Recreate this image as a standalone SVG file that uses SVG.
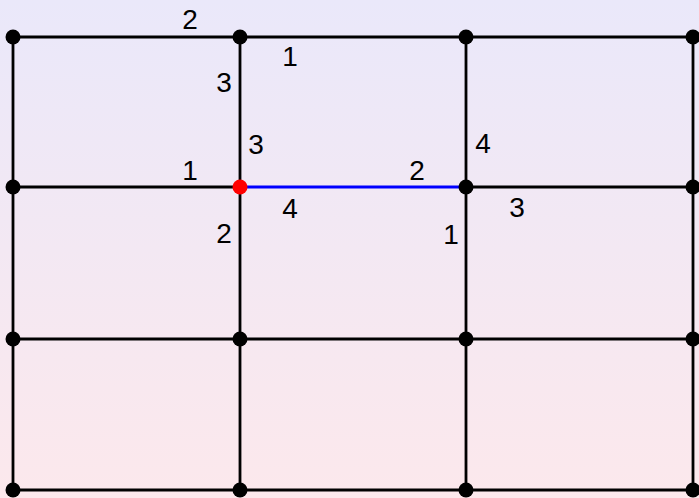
<svg xmlns="http://www.w3.org/2000/svg" width="699" height="498" viewBox="0 0 699 498">
<defs>
<linearGradient id="bg" x1="0" y1="0" x2="0" y2="1">
<stop offset="0" stop-color="#eae8fa"/>
<stop offset="1" stop-color="#fce8ec"/>
</linearGradient>
</defs>
<style>
.e{stroke:#000;stroke-width:2.8;fill:none}
.b{stroke:#0000ff;stroke-width:2.8;fill:none}
.n{fill:#000}
.r{fill:#ff0000}
.t{font-family:"Liberation Sans","DejaVu Sans",sans-serif;font-size:28px;fill:#000;text-anchor:middle}
</style>
<rect x="0" y="0" width="699" height="498" fill="url(#bg)"/>
<g id="edges">
<path class="e" d="M13 37H693M13 187H240M466 187H693M13 339H693M13 490H693"/>
<path class="e" d="M13 37V490M240 37V490M466 37V490M693 37V490"/>
<path class="b" d="M240 187H466"/>
</g>
<g id="labels">
<text class="t" x="190" y="29">2</text>
<text class="t" x="290" y="66">1</text>
<text class="t" x="224" y="92">3</text>
<text class="t" x="256" y="154">3</text>
<text class="t" x="190" y="180">1</text>
<text class="t" x="290" y="218">4</text>
<text class="t" x="224" y="243">2</text>
<text class="t" x="483" y="153">4</text>
<text class="t" x="417" y="180">2</text>
<text class="t" x="517" y="217">3</text>
<text class="t" x="451" y="244">1</text>
</g>
<g id="n00"><circle class="n" cx="13" cy="37" r="7.5"/></g>
<g id="n10"><circle class="n" cx="240" cy="37" r="7.5"/></g>
<g id="n20"><circle class="n" cx="466" cy="37" r="7.5"/></g>
<g id="n30"><circle class="n" cx="693" cy="37" r="7.5"/></g>
<g id="n01"><circle class="n" cx="13" cy="187" r="7.5"/></g>
<g id="n11"><circle class="r" cx="240" cy="187" r="7.5"/></g>
<g id="n21"><circle class="n" cx="466" cy="187" r="7.5"/></g>
<g id="n31"><circle class="n" cx="693" cy="187" r="7.5"/></g>
<g id="n02"><circle class="n" cx="13" cy="339" r="7.5"/></g>
<g id="n12"><circle class="n" cx="240" cy="339" r="7.5"/></g>
<g id="n22"><circle class="n" cx="466" cy="339" r="7.5"/></g>
<g id="n32"><circle class="n" cx="693" cy="339" r="7.5"/></g>
<g id="n03"><circle class="n" cx="13" cy="490" r="7.5"/></g>
<g id="n13"><circle class="n" cx="240" cy="490" r="7.5"/></g>
<g id="n23"><circle class="n" cx="466" cy="490" r="7.5"/></g>
<g id="n33"><circle class="n" cx="693" cy="490" r="7.5"/></g>
</svg>
